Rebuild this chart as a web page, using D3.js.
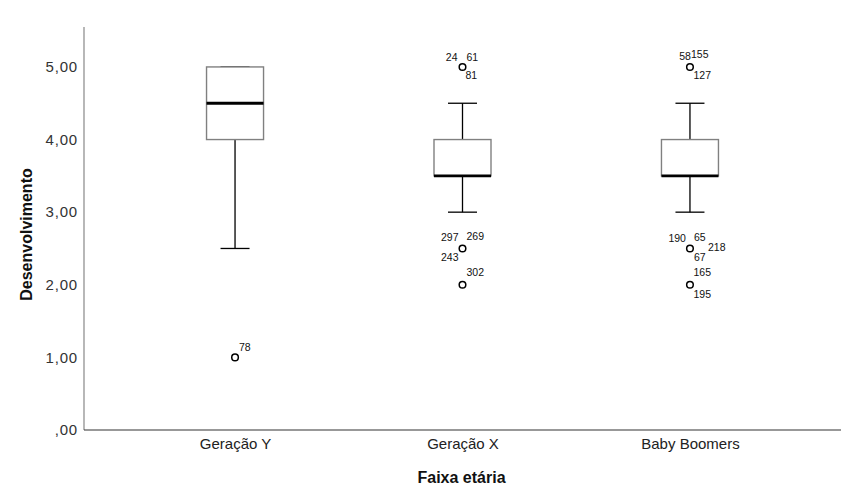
<!DOCTYPE html>
<html>
<head>
<meta charset="utf-8">
<script src="https://cdn.jsdelivr.net/npm/d3@7"></script>
<style>
html,body{margin:0;padding:0;background:#fff;}
svg{display:block;font-family:"Liberation Sans",Arial,sans-serif;}
</style>
</head>
<body>
<svg id="chart" width="851" height="501"></svg>
<script>
// ---- data ----
const categories = ["Geração Y", "Geração X", "Baby Boomers"];
const whiskerLow = [2.5, 3.0, 3.0];
const q1 = [4.0, 3.5, 3.5];
const median = [4.5, 3.5, 3.5];
const q3 = [5.0, 4.0, 4.0];
const whiskerHigh = [5.0, 4.5, 4.5];
const outlierCategory = ["Geração Y", "Geração X", "Geração X", "Geração X", "Baby Boomers", "Baby Boomers", "Baby Boomers"];
const outlierValue = [1.0, 5.0, 2.5, 2.0, 5.0, 2.5, 2.0];
const outlierIds = [["78"], ["24", "61", "81"], ["297", "269", "243"], ["302"], ["58", "155", "127"], ["190", "65", "218", "67"], ["165", "195"]];
const yTicks = [0, 1, 2, 3, 4, 5];

// ---- layout ----
(function () {
const svg = d3.select("#chart");
const pl = 84, pr = 841, pt = 27, pb = 430;
const x = d3.scalePoint().domain(categories).range([pl, pr]).padding(0.664);
const y = d3.scaleLinear().domain([0, 5.55]).range([pb, pt]);
const boxW = 57, capW = 29;

// label placement relative to outlier point: [anchor, dx, dy]
const labelPlace = {
  "78": ["start", 4, -6],
  "24": ["end", -5, -6], "61": ["start", 4, -6], "81": ["start", 3, 12],
  "297": ["end", -4, -7], "269": ["start", 4, -8], "243": ["end", -4, 13],
  "302": ["start", 4, -9],
  "58": ["end", 1, -7], "155": ["start", 1, -8.5], "127": ["start", 3.5, 12],
  "190": ["end", -4, -6], "65": ["start", 4, -7], "218": ["start", 18, 3], "67": ["start", 4, 13],
  "165": ["start", 3.5, -9], "195": ["start", 3.5, 13]
};

// axes
const yAxis = d3.axisLeft(y).tickValues(yTicks).tickSize(0).tickPadding(6)
  .tickFormat(d => d === 0 ? ",00" : d3.format(".2f")(d).replace(".", ","));
const gy = svg.append("g").attr("transform", `translate(${pl},0)`).call(yAxis);
gy.select(".domain").remove();
gy.selectAll("text").attr("font-size", 15).attr("letter-spacing", 0.8).attr("fill", "#333")
  .attr("font-family", "Liberation Sans, Arial, sans-serif");
svg.append("line").attr("x1", pl).attr("x2", pl).attr("y1", pt).attr("y2", pb)
  .attr("stroke", "#888").attr("stroke-width", 1.2);

const xAxis = d3.axisBottom(x).tickSize(0).tickPadding(8.5);
const gx = svg.append("g").attr("transform", `translate(0,${pb})`).call(xAxis);
gx.select(".domain").remove();
gx.selectAll("text").attr("font-size", 15).attr("fill", "#222").attr("font-family", "Liberation Sans, Arial, sans-serif");
svg.append("line").attr("x1", pl).attr("x2", pr).attr("y1", pb).attr("y2", pb)
  .attr("stroke", "#333").attr("stroke-width", 1.2);

// axis titles
svg.append("text").attr("x", (pl + pr) / 2 - 1).attr("y", 483).attr("text-anchor", "middle")
  .attr("font-size", 16).attr("font-weight", "bold").attr("fill", "#111").text("Faixa etária");
svg.append("text").attr("transform", `translate(32,${(pt + pb) / 2 + 6}) rotate(-90)`)
  .attr("text-anchor", "middle").attr("font-size", 16).attr("font-weight", "bold").attr("fill", "#111")
  .text("Desenvolvimento");

// boxes
const boxes = categories.map((c, i) => ({c, lo: whiskerLow[i], q1: q1[i], med: median[i], q3: q3[i], hi: whiskerHigh[i]}));
const g = svg.append("g");
boxes.forEach(b => {
  const cx = x(b.c);
  g.append("line").attr("x1", cx).attr("x2", cx).attr("y1", y(b.q1)).attr("y2", y(b.lo)).attr("stroke", "#000").attr("stroke-width", 1.3);
  g.append("line").attr("x1", cx).attr("x2", cx).attr("y1", y(b.q3)).attr("y2", y(b.hi)).attr("stroke", "#000").attr("stroke-width", 1.3);
  g.append("line").attr("x1", cx - capW / 2).attr("x2", cx + capW / 2).attr("y1", y(b.lo)).attr("y2", y(b.lo)).attr("stroke", "#000").attr("stroke-width", 1.3);
  g.append("line").attr("x1", cx - capW / 2).attr("x2", cx + capW / 2).attr("y1", y(b.hi)).attr("y2", y(b.hi)).attr("stroke", "#000").attr("stroke-width", 1.3);
  g.append("rect").attr("x", cx - boxW / 2).attr("y", y(b.q3)).attr("width", boxW).attr("height", y(b.q1) - y(b.q3))
    .attr("fill", "#fff").attr("stroke", "#808080").attr("stroke-width", 1.4);
  g.append("line").attr("x1", cx - boxW / 2).attr("x2", cx + boxW / 2).attr("y1", y(b.med)).attr("y2", y(b.med))
    .attr("stroke", "#000").attr("stroke-width", 2.8);
});

// outliers
const outs = outlierValue.map((v, i) => ({c: outlierCategory[i], v, ids: outlierIds[i]}));
outs.forEach(o => {
  const cx = x(o.c), cy = y(o.v);
  g.append("circle").attr("cx", cx).attr("cy", cy).attr("r", 3.3)
    .attr("fill", "none").attr("stroke", "#000").attr("stroke-width", 1.5);
  o.ids.forEach(id => {
    const p = labelPlace[id];
    g.append("text").attr("x", cx + p[1]).attr("y", cy + p[2]).attr("text-anchor", p[0])
      .attr("font-size", 10.5).attr("fill", "#111").text(id);
  });
});
})();
</script>
</body>
</html>
